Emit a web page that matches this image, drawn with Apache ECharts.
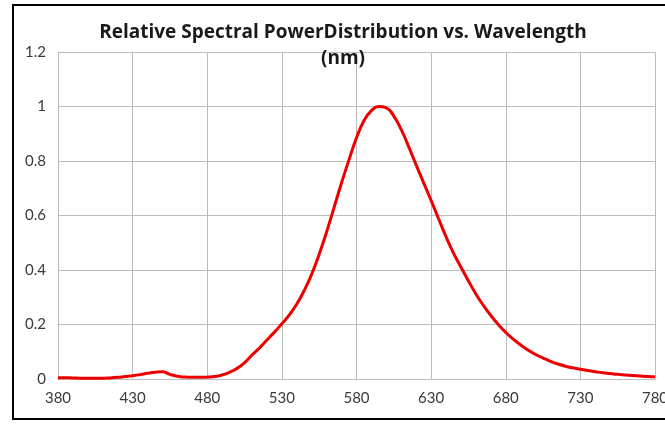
<!DOCTYPE html>
<html>
<head>
    <meta charset="utf-8">
    <title>Relative Spectral Power Distribution</title>
    <script src="https://cdn.jsdelivr.net/npm/echarts@6/dist/echarts.min.js"></script>
    <style>
        html, body {
            margin: 0;
            padding: 0;
            width: 665px;
            height: 425px;
            background: #fff;
            overflow: hidden;
        }
        #frame {
            position: absolute;
            left: 12px;
            top: 4px;
            width: 653px;
            height: 416px;
            border: 2px solid #000;
            border-right: none;
            box-sizing: border-box;
        }
        #main {
            position: absolute;
            left: 0;
            top: 0;
            width: 665px;
            height: 425px;
        }
    </style>
</head>
<body>
<div id="frame"></div>
<div id="main"></div>

<script>
    // wavelength (nm), 5 nm steps
    var wavelengths = [380,385,390,395,400,405,410,415,420,425,430,435,440,445,450,455,460,465,470,475,
        480,485,490,495,500,505,510,515,520,525,530,535,540,545,550,555,560,565,570,575,
        580,585,590,595,600,605,610,615,620,625,630,635,640,645,650,655,660,665,670,675,
        680,685,690,695,700,705,710,715,720,725,730,735,740,745,750,755,760,765,770,775,780];
    // relative power
    var relPower = [0.005,0.005,0.004,0.003,0.003,0.003,0.003,0.004,0.006,0.009,0.012,0.016,0.021,0.025,0.027,0.017,0.010,0.007,0.006,0.006,
        0.007,0.009,0.015,0.025,0.039,0.060,0.088,0.114,0.143,0.172,0.203,0.235,0.275,0.325,0.385,0.458,0.54,0.63,0.72,0.805,
        0.885,0.948,0.985,1.0,0.995,0.965,0.915,0.852,0.785,0.72,0.655,0.588,0.522,0.462,0.41,0.36,0.312,0.27,0.233,0.2,
        0.171,0.146,0.125,0.106,0.09,0.077,0.065,0.055,0.047,0.041,0.036,0.031,0.027,0.023,0.02,0.017,0.015,0.013,0.011,0.009,0.008];

    var xMin = 380, xMax = 780, xStep = 50;
    var yMin = 0, yMax = 1.2, yStep = 0.2;

    var points = wavelengths.map(function (w, i) { return [w, relPower[i]]; });

    var chart = echarts.init(document.getElementById('main'), null, { renderer: 'canvas' });

    var gridColor = '#bcbcbc';
    var labelFont = { fontFamily: 'Lato, "Open Sans", sans-serif', fontSize: 15, color: '#3a3a3a' };

    chart.setOption({
        animation: false,
        backgroundColor: 'transparent',
        title: {
            text: 'Relative Spectral PowerDistribution vs. Wavelength\n(nm)',
            left: 338,
            top: 15,
            textAlign: 'center',
            textStyle: {
                fontFamily: '"Open Sans", Lato, sans-serif',
                fontWeight: 'bold',
                fontSize: 19,
                lineHeight: 26,
                color: '#1a1a1a'
            }
        },
        grid: {
            left: 58,
            right: 10,
            top: 52,
            bottom: 46,
            containLabel: false,
            outerBoundsMode: 'none'
        },
        xAxis: {
            type: 'value',
            min: xMin,
            max: xMax,
            interval: xStep,
            axisLine: { show: true, lineStyle: { color: gridColor, width: 1 } },
            axisTick: { show: false },
            axisLabel: Object.assign({ margin: 12 }, labelFont),
            splitLine: { show: true, lineStyle: { color: gridColor, width: 1 } }
        },
        yAxis: {
            type: 'value',
            min: yMin,
            max: yMax,
            interval: yStep,
            axisLine: { show: true, lineStyle: { color: gridColor, width: 1 } },
            axisTick: { show: false },
            axisLabel: Object.assign({ margin: 12 }, labelFont),
            splitLine: { show: true, lineStyle: { color: gridColor, width: 1 } }
        },
        series: [{
            type: 'line',
            data: points,
            smooth: 0.5,
            showSymbol: false,
            lineStyle: { color: '#ee0000', width: 3 },
            itemStyle: { color: '#ee0000' }
        }]
    });
</script>
</body>
</html>
